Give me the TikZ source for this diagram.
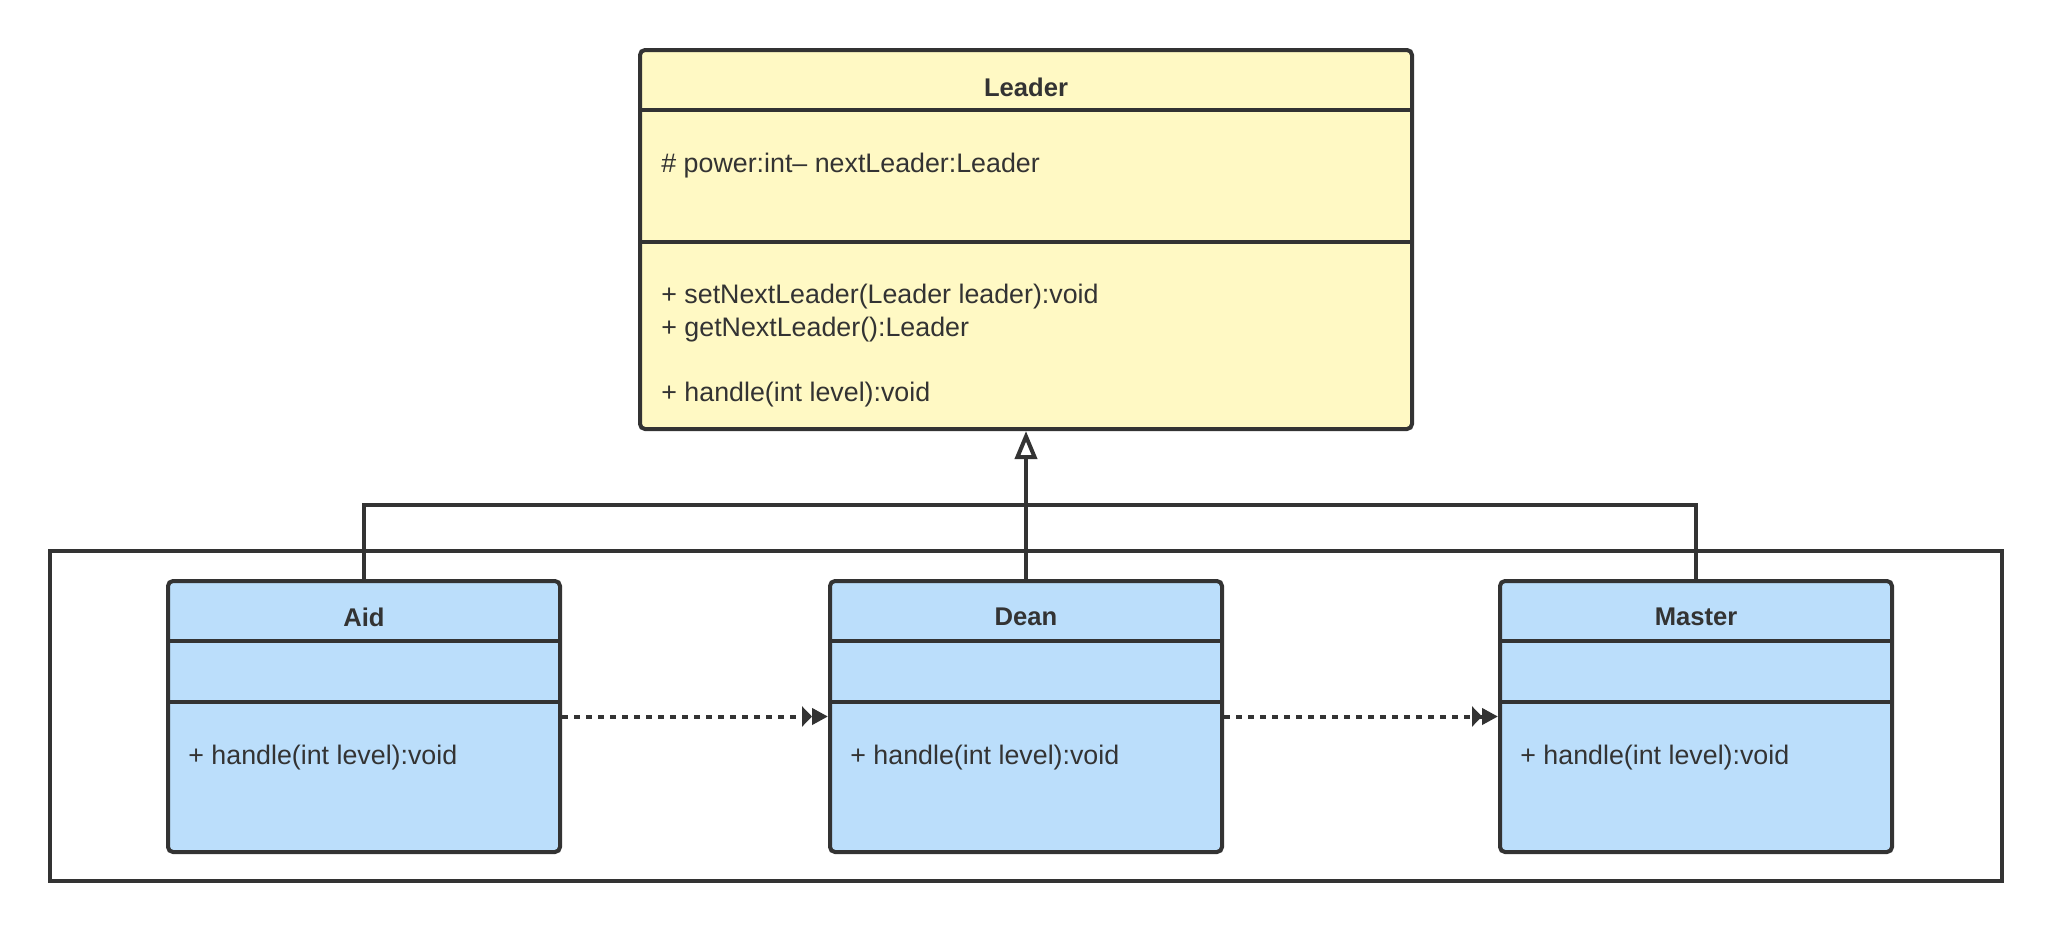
\documentclass[tikz,border=0pt]{standalone}
\usepackage{fontspec}
\setmainfont{Liberation Sans}
\usetikzlibrary{arrows.meta}
\definecolor{ink}{HTML}{333333}
\definecolor{ylw}{HTML}{FFF9C4}
\definecolor{blu}{HTML}{BBDEFB}
\tikzset{
  lw/.style={line width=2pt, draw=ink},
  classbox/.style={lw, rounded corners=2.5pt, inner sep=0pt},
  title/.style={font=\fontsize{12.8}{15}\selectfont\bfseries, text=ink},
  member/.style={font=\fontsize{13.4}{16.4}\selectfont, text=ink, anchor=west, align=left, inner sep=0pt},
  dep/.style={lw, dash pattern=on 3pt off 3pt, -{Triangle[length=5pt,width=10pt]Triangle[length=8pt,width=8pt]}},
  gen/.style={lw, -{Triangle[open,length=14pt,width=11pt,fill=white]}},
}
\begin{document}
\begin{tikzpicture}[x=0.5pt,y=-0.5pt]
\useasboundingbox (0,0) rectangle (2052,932);
% group frame
\node[lw, minimum width=976pt, minimum height=165pt, inner sep=0pt] (grp) at (1026,716) {};
% Leader
\node[classbox, fill=ylw, minimum width=386pt, minimum height=189.5pt] (leader) at (1026,239.5) {};
\draw[lw] (leader.west |- 0,110) -- (leader.east |- 0,110);
\draw[lw] (leader.west |- 0,242) -- (leader.east |- 0,242);
\node[title] (leaderT) at (1026,87) {Leader};
\node[member] (leaderA) at (661,166) {\# power:int– nextLeader:Leader};
\node[member] (leaderM) at (661,345.5) {+ setNextLeader(Leader leader):void\\+ getNextLeader():Leader\\[16.4pt]+ handle(int level):void};
% Subclasses
\foreach \n/\t/\cx in {aid/Aid/364, dean/Dean/1026, master/Master/1696}{
  \node[classbox, fill=blu, minimum width=196pt, minimum height=135.5pt] (\n) at (\cx,716.5) {};
  \draw[lw] (\n.west |- 0,641) -- (\n.east |- 0,641);
  \draw[lw] (\n.west |- 0,701.5) -- (\n.east |- 0,701.5);
  \node[title] (\n T) at (\cx,617) {\t};
  \node[member] (\n M) at (\cx-176,758) {+ handle(int level):void};
}
% generalization
\coordinate (j) at (1026,505);
\draw[lw] (aid.north) |- (j);
\draw[lw] (master.north) |- (j);
\draw[gen] (dean.north) -- (leader.south);
% dependencies
\draw[dep] (aid.east) -- (dean.west);
\draw[dep] (dean.east) -- (master.west);
\end{tikzpicture}
\end{document}
